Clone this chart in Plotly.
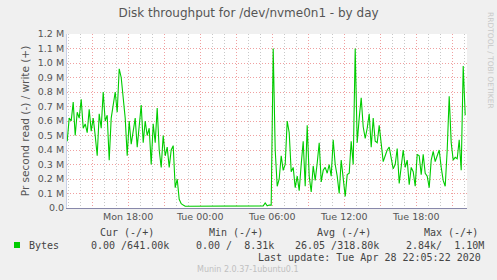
import plotly.graph_objects as go
import pandas as pd

# ---- data (write throughput, in M bytes/s, one sample per 10 minutes) ----
start_time = "2020-04-27 12:55"
step = "10min"
write_mbps = [
    0.46, 0.62, 0.60, 0.73, 0.50, 0.66, 0.62, 0.75, 0.55, 0.58,
    0.52, 0.68, 0.53, 0.62, 0.50, 0.36, 0.65, 0.55, 0.80, 0.60,
    0.64, 0.33, 0.62, 0.72, 0.80, 0.66, 0.96, 0.90, 0.74, 0.62,
    0.36, 0.60, 0.44, 0.55, 0.62, 0.42, 0.58, 0.71, 0.45, 0.60,
    0.50, 0.55, 0.30, 0.58, 0.45, 0.69, 0.40, 0.28, 0.50, 0.36,
    0.42, 0.28, 0.40, 0.43, 0.14, 0.20, 0.06, 0.03, 0.02, 0.012,
    0.012, 0.012, 0.012, 0.012, 0.012, 0.012, 0.012, 0.012, 0.012, 0.012,
    0.012, 0.012, 0.012, 0.012, 0.012, 0.012, 0.012, 0.012, 0.012, 0.012,
    0.012, 0.012, 0.012, 0.012, 0.012, 0.012, 0.012, 0.012, 0.012, 0.012,
    0.012, 0.012, 0.012, 0.012, 0.012, 0.012, 0.012, 0.012, 0.015, 0.035,
    0.015, 0.02, 0.02, 1.10, 0.40, 0.15, 0.20, 0.36, 0.26, 0.30,
    0.60, 0.52, 0.25, 0.28, 0.14, 0.22, 0.12, 0.30, 0.46, 0.15,
    0.57, 0.22, 0.11, 0.29, 0.19, 0.31, 0.45, 0.18, 0.26, 0.28,
    0.24, 0.30, 0.22, 0.47, 0.30, 0.22, 0.10, 0.33, 0.20, 0.08,
    0.23, 0.24, 0.46, 0.30, 1.10, 0.45, 0.62, 0.76, 0.56, 0.48,
    0.55, 0.65, 0.42, 0.62, 0.46, 0.45, 0.57, 0.43, 0.32, 0.36,
    0.40, 0.42, 0.34, 0.27, 0.30, 0.41, 0.17, 0.31, 0.40, 0.28,
    0.33, 0.16, 0.28, 0.25, 0.15, 0.37, 0.36, 0.23, 0.37, 0.24,
    0.22, 0.14, 0.33, 0.39, 0.32, 0.36, 0.40, 0.28, 0.19, 0.15,
    0.40, 0.77, 0.45, 0.33, 0.35, 0.34, 0.47, 0.26, 0.98, 0.64,
]
times = pd.date_range(start_time, periods=len(write_mbps), freq=step)
write_bytes = [v * 1e6 for v in write_mbps]

y_tick_vals = [i * 1e5 for i in range(13)]
y_tick_text = ["0.0", "0.1 M", "0.2 M", "0.3 M", "0.4 M", "0.5 M", "0.6 M",
               "0.7 M", "0.8 M", "0.9 M", "1.0 M", "1.1 M", "1.2 M"]
x_tick_vals = pd.date_range("2020-04-27 15:00", "2020-04-28 21:00", freq="3h")
x_tick_text = ["", "Mon 18:00", "", "Tue 00:00", "", "Tue 06:00", "",
               "Tue 12:00", "", "Tue 18:00", ""]

legend_headers = ["Cur (-/+)", "Min (-/+)", "Avg (-/+)", "Max (-/+)"]
legend_values = ["0.00 /641.00k", "0.00 /  8.31k", "26.05 /318.80k", "2.84k/  1.10M"]
series_name = "Bytes"
last_update = "Last update: Tue Apr 28 22:05:22 2020"
footer = "Munin 2.0.37-1ubuntu0.1"

# ---- layout helpers (pixel -> paper) ----
L, R, T, B = 67, 467, 34, 208
def px(x):
    return (x - L) / (R - L)
def py(y):
    return (B - y) / (B - T)

GREEN = "#00CC00"
TXT = "#555555"
MONO = "DejaVu Sans Mono"
SANS = "DejaVu Sans"
DOTS = "1px,2px"

fig = go.Figure()
fig.add_trace(go.Scatter(x=times, y=write_bytes, mode="lines",
                         line=dict(color=GREEN, width=1.1), hoverinfo="skip",
                         showlegend=False))

fig.update_layout(
    width=497, height=280,
    margin=dict(l=L, r=497 - R, t=T, b=280 - B),
    paper_bgcolor="#F0F0F0", plot_bgcolor="#FFFFFF",
    font=dict(family=SANS, color=TXT),
    title=dict(text="Disk throughput for /dev/nvme0n1 - by day",
               x=0.5, xanchor="center", y=1 - 13 / 280, yanchor="middle",
               font=dict(family=SANS, size=12, color="#555555")),
    xaxis=dict(
        range=["2020-04-27 12:54", "2020-04-28 22:14"],
        tickmode="array", tickvals=x_tick_vals, ticktext=x_tick_text,
        showgrid=True, gridcolor="#F0A0A0", griddash=DOTS, gridwidth=1,
        ticks="", tickfont=dict(family=SANS, size=9.5, color=TXT),
        showline=True, linecolor="#8888AA", linewidth=1,
        zeroline=False,
        minor=dict(tickmode="linear", tick0="2020-04-27 13:00", dtick=3600000,
                   showgrid=True, gridcolor="#C8C8C8", griddash=DOTS, gridwidth=1),
    ),
    yaxis=dict(
        range=[0, 1.2e6],
        tickmode="array", tickvals=y_tick_vals, ticktext=y_tick_text,
        showgrid=True, gridcolor="#F0A0A0", griddash=DOTS, gridwidth=1,
        ticks="", tickfont=dict(family=SANS, size=9.5, color=TXT),
        showline=True, linecolor="#C8D0E8", linewidth=1, zeroline=False,
        title=dict(text="Pr second read (-) / write (+)",
                   font=dict(family=SANS, size=10.5, color=TXT), standoff=6),
    ),
)

ann = []
header_x = [98, 207, 315, 422]
for h, x in zip(legend_headers, header_x):
    ann.append(dict(text=h, x=px(x), y=py(232)))
value_x = [89, 194, 293, 404]
for v, x in zip(legend_values, value_x):
    ann.append(dict(text=v.replace(" ", "\u00a0"), x=px(x), y=py(245)))
ann.append(dict(text=series_name, x=px(27), y=py(245)))
for a in ann:
    a.update(xref="paper", yref="paper", xanchor="left", yanchor="middle",
             showarrow=False, font=dict(family=MONO, size=10, color="#444444"))
ann.append(dict(text=last_update, x=px(483), y=py(257), xref="paper", yref="paper",
                xanchor="right", yanchor="middle", showarrow=False,
                font=dict(family=MONO, size=10, color="#444444")))
ann.append(dict(text=footer, x=px(248), y=py(269), xref="paper", yref="paper",
                xanchor="center", yanchor="middle", showarrow=False,
                font=dict(family=SANS, size=8, color="#C0C0C0")))
ann.append(dict(text="RRDTOOL / TOBI OETIKER", x=px(491), y=py(60), xref="paper",
                yref="paper", xanchor="center", yanchor="middle", showarrow=False,
                textangle=90, font=dict(family=SANS, size=7.5, color="#C8C8C8")))
fig.update_layout(annotations=ann)

fig.add_shape(type="rect", xref="paper", yref="paper",
              x0=px(14), x1=px(20), y0=py(248), y1=py(242),
              fillcolor=GREEN, line=dict(width=0))

fig.write_html("out.html")
